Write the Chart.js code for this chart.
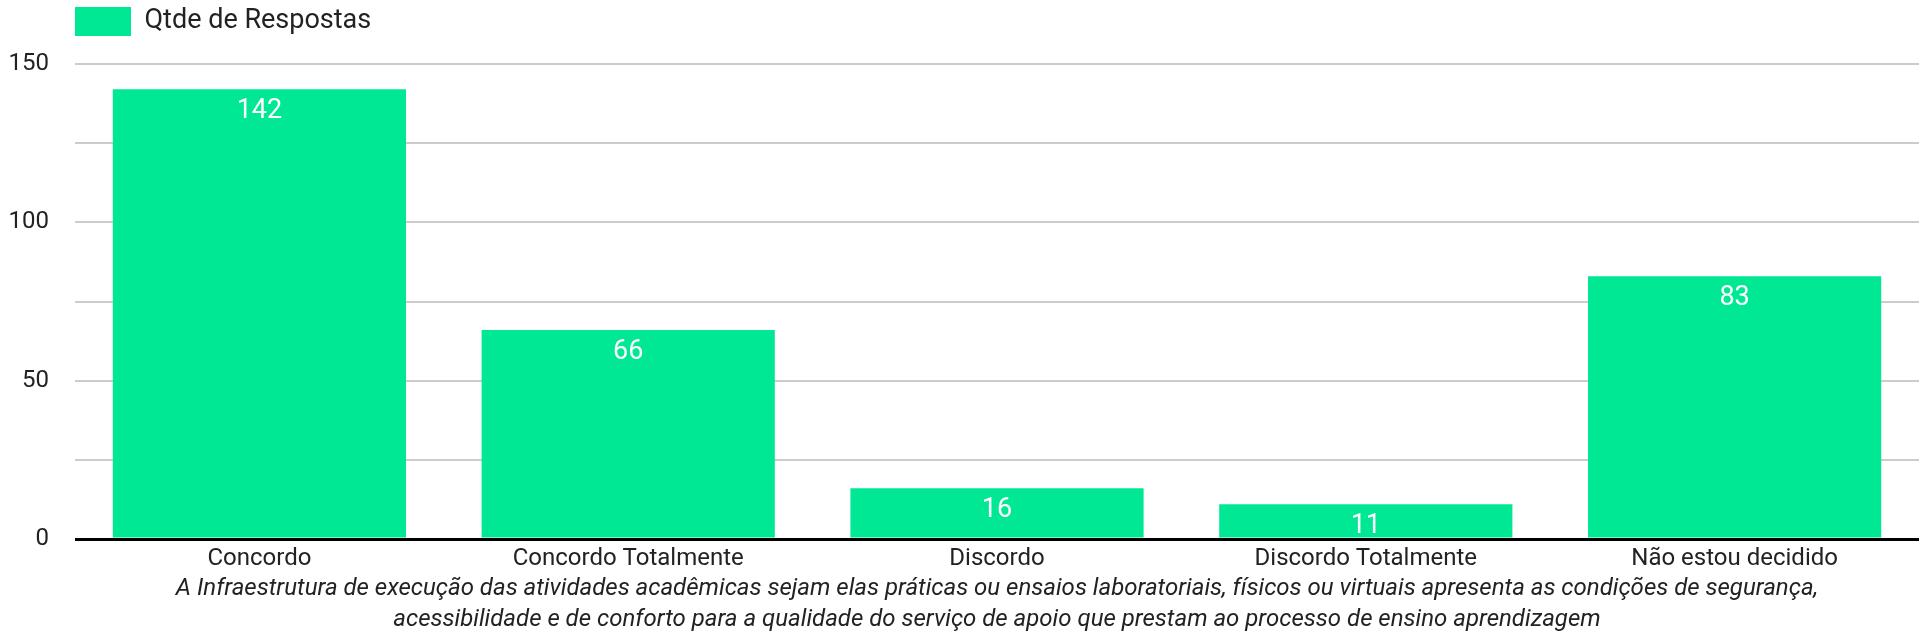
<!DOCTYPE html>
<html lang="pt-BR">
<head>
    <meta charset="UTF-8">
    <title>Qtde de Respostas</title>
    <style>
        body {
            margin: 0;
            padding: 0;
            background-color: white;
            font-family: Roboto, Arial, sans-serif;
        }

        .chart-container {
            width: 1921px;
            height: 644px;
            position: relative;
        }
    </style>
</head>
<body>
    <div class="chart-container">
        <canvas id="myChart"></canvas>
    </div>

    <script src="https://cdn.jsdelivr.net/npm/chart.js"></script>
    <script>
        const categories = ['Concordo', 'Concordo Totalmente', 'Discordo', 'Discordo Totalmente', 'Não estou decidido'];
        const responses = [142, 66, 16, 11, 83];
        const seriesName = 'Qtde de Respostas';
        const yTickLabels = [0, 50, 100, 150];
        const axisTitle = [
            'A Infraestrutura de execução das atividades acadêmicas sejam elas práticas ou ensaios laboratoriais, físicos ou virtuais apresenta as condições de segurança,',
            'acessibilidade e de conforto para a qualidade do serviço de apoio que prestam ao processo de ensino aprendizagem'
        ];

        const barColor = '#00e893';
        const textColor = '#222222';

        // white value labels drawn just inside the top of every bar
        const valueLabels = {
            id: 'valueLabels',
            afterDatasetsDraw(chart) {
                const ctx = chart.ctx;
                const meta = chart.getDatasetMeta(0);
                ctx.save();
                ctx.fillStyle = '#ffffff';
                ctx.font = '27px Roboto';
                ctx.textAlign = 'center';
                ctx.textBaseline = 'alphabetic';
                meta.data.forEach((bar, i) => {
                    ctx.fillText(String(chart.data.datasets[0].data[i]), bar.x, bar.y + 29);
                });
                ctx.restore();
            }
        };

        // extra room under the legend, and legend lined up with the plot area
        const legendSpace = {
            id: 'legendSpace',
            beforeInit(chart) {
                const fit = chart.legend.fit;
                chart.legend.fit = function () {
                    fit.bind(chart.legend)();
                    this.height += 18;
                };
            },
            beforeDraw(chart) {
                chart.legend.left = chart.chartArea.left - 7;
            }
        };

        const dt = document.getElementById('myChart').getContext('2d');
        const chart = new Chart(dt, {
            type: 'bar',
            data: {
                labels: categories,
                datasets: [{
                    label: seriesName,
                    data: responses,
                    backgroundColor: barColor,
                    borderWidth: 0,
                    barPercentage: 0.795,
                    categoryPercentage: 1.0
                }]
            },
            options: {
                responsive: true,
                maintainAspectRatio: false,
                animation: false,
                layout: {
                    padding: { left: 10, right: 2, top: 0, bottom: 5 }
                },
                plugins: {
                    legend: {
                        position: 'top',
                        align: 'start',
                        labels: {
                            boxWidth: 56,
                            boxHeight: 29,
                            padding: 7,
                            color: textColor,
                            font: { family: 'Roboto', size: 27 }
                        }
                    },
                    tooltip: { enabled: false }
                },
                scales: {
                    x: {
                        afterFit: (scale) => { scale.height = 100; },
                        grid: { display: false, drawTicks: false },
                        border: { display: false },
                        ticks: {
                            color: textColor,
                            padding: 6,
                            maxRotation: 0,
                            autoSkip: false,
                            font: { family: 'Roboto', size: 24 }
                        },
                        title: {
                            display: true,
                            text: axisTitle,
                            color: textColor,
                            padding: { top: 0, bottom: 3 },
                            font: { family: 'Roboto', size: 24, style: 'italic', lineHeight: 1.3 }
                        }
                    },
                    y: {
                        min: 0,
                        max: 150,
                        afterFit: (scale) => { scale.width = 65; },
                        border: { display: false },
                        grid: {
                            drawTicks: false,
                            color: (c) => c.tick && c.tick.value === 0 ? '#000000' : '#cccccc',
                            lineWidth: (c) => c.tick && c.tick.value === 0 ? 3 : 2
                        },
                        ticks: {
                            stepSize: 25,
                            padding: 26,
                            color: textColor,
                            font: { family: 'Roboto', size: 24 },
                            callback: (v) => yTickLabels.includes(v) ? String(v) : ''
                        }
                    }
                }
            },
            plugins: [valueLabels, legendSpace]
        });
    </script>
</body>
</html>
